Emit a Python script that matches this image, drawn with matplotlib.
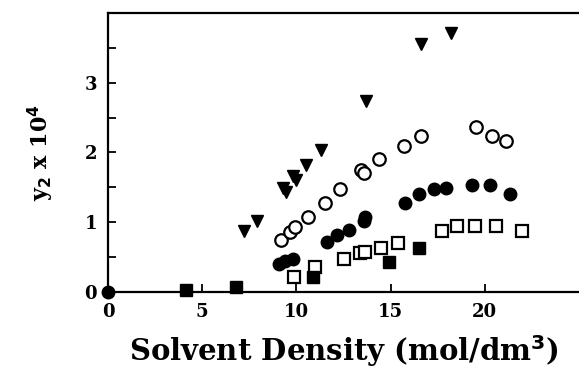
import matplotlib
matplotlib.use("Agg")
import matplotlib.pyplot as plt
from matplotlib.ticker import MultipleLocator

# data (x = solvent density, y = y2 x 10^4)
tri_x = [7.2, 7.9, 9.3, 9.45, 9.8, 10.0, 10.5, 11.3, 13.7, 16.6, 18.2]
tri_y = [0.87, 1.02, 1.49, 1.43, 1.67, 1.61, 1.82, 2.04, 2.74, 3.55, 3.72]

ocirc_x = [9.2, 9.65, 9.95, 10.6, 11.5, 12.3, 13.45, 13.6, 14.4, 15.7, 16.6, 19.55, 20.4, 21.1]
ocirc_y = [0.74, 0.86, 0.93, 1.07, 1.28, 1.47, 1.75, 1.71, 1.90, 2.09, 2.23, 2.36, 2.24, 2.16]

fcirc_x = [0.0, 9.1, 9.4, 9.8, 11.6, 12.15, 12.8, 13.6, 13.65, 15.75, 16.5, 17.3, 17.95, 19.3, 20.25, 21.35]
fcirc_y = [0.0, 0.40, 0.45, 0.48, 0.72, 0.81, 0.89, 1.02, 1.07, 1.27, 1.40, 1.47, 1.49, 1.54, 1.53, 1.41]

osq_x = [9.85, 11.0, 12.55, 13.35, 13.65, 14.5, 15.4, 17.75, 18.5, 19.5, 20.6, 21.95]
osq_y = [0.22, 0.36, 0.48, 0.56, 0.58, 0.63, 0.70, 0.88, 0.94, 0.95, 0.95, 0.88]

fsq_x = [4.15, 6.8, 10.9, 14.9, 16.5]
fsq_y = [0.03, 0.07, 0.21, 0.43, 0.63]

plt.rcParams['font.family'] = 'DejaVu Serif'
plt.rcParams['font.weight'] = 'bold'
plt.rcParams['axes.labelweight'] = 'bold'
plt.rcParams['mathtext.default'] = 'bf'

fig = plt.figure(figsize=(5.79, 3.74), dpi=100)
ax = fig.add_axes([0.1865, 0.2193, 0.8135, 0.7459])

ms = 9
ax.plot(tri_x, tri_y, 'v', color='black', ms=ms, clip_on=False)
ax.plot(ocirc_x, ocirc_y, 'o', mfc='white', mec='black', mew=1.6, ms=ms, clip_on=False)
ax.plot(fcirc_x, fcirc_y, 'o', color='black', ms=ms, clip_on=False)
ax.plot(osq_x, osq_y, 's', mfc='white', mec='black', mew=1.6, ms=ms, clip_on=False)
ax.plot(fsq_x, fsq_y, 's', color='black', ms=ms, clip_on=False)

ax.set_xlim(0, 25)
ax.set_ylim(0, 4)
ax.set_xticks([0, 5, 10, 15, 20])
ax.set_yticks([0, 1, 2, 3])
ax.yaxis.set_minor_locator(MultipleLocator(0.5))
ax.tick_params(direction='in', length=6, width=1.3, labelsize=13, pad=8)
ax.tick_params(which='minor', direction='in', length=6, width=1.3)

for s in ['left', 'bottom', 'top']:
    ax.spines[s].set_linewidth(1.6)
ax.spines['right'].set_visible(False)

ax.set_xlabel('Solvent Density (mol/dm$^{3}$)', fontsize=21, labelpad=9)
ax.set_ylabel('y$_2$ x 10$^4$', fontsize=16, labelpad=20)

fig.savefig('out.png', dpi=100)
